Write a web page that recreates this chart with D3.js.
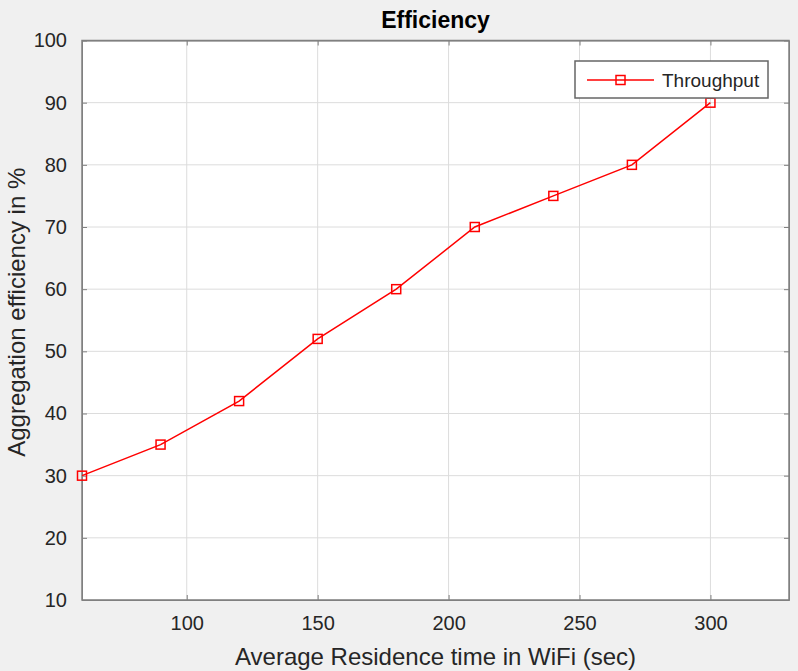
<!DOCTYPE html>
<html>
<head>
<meta charset="utf-8">
<script src="https://cdn.jsdelivr.net/npm/d3@7"></script>
<style>
  body { margin: 0; background: #f0f0f0; }
  svg { display: block; font-family: "Liberation Sans", Arial, sans-serif; }
  .grid line { stroke: #dcdcdc; stroke-width: 1; }
  .axis text { fill: #262626; font-size: 20px; }
  .axis path, .axis line { stroke: #808080; }
</style>
</head>
<body>
<div class="chart"></div>
<script>
const width = 798;
const height = 671;
const margin = { top: 40.5, right: 9, bottom: 71, left: 82 };

// data
const residence = [60, 90, 120, 150, 180, 210, 240, 270, 300];
const throughput = [30, 35, 42, 52, 60, 70, 75, 80, 90];
const xTicks = [100, 150, 200, 250, 300];
const yTicks = [10, 20, 30, 40, 50, 60, 70, 80, 90, 100];

const svg = d3.select('.chart').append('svg')
    .attr('width', width)
    .attr('height', height);

svg.append('rect')
    .attr('width', width).attr('height', height)
    .attr('fill', '#f0f0f0');

const innerW = width - margin.left - margin.right;
const innerH = height - margin.top - margin.bottom;

const xScale = d3.scaleLinear().domain([60, 330]).range([0, innerW]);
const yScale = d3.scaleLinear().domain([10, 100]).range([innerH, 0]);

const chart = svg.append('g')
    .attr('transform', `translate(${margin.left}, ${margin.top})`);

chart.append('rect')
    .attr('width', innerW).attr('height', innerH)
    .attr('fill', '#ffffff');

/* grid */
chart.append('g').attr('class', 'grid')
    .selectAll('line').data(xTicks).enter().append('line')
    .attr('x1', d => xScale(d)).attr('x2', d => xScale(d))
    .attr('y1', 0).attr('y2', innerH);
chart.append('g').attr('class', 'grid')
    .selectAll('line').data(yTicks).enter().append('line')
    .attr('x1', 0).attr('x2', innerW)
    .attr('y1', d => yScale(d)).attr('y2', d => yScale(d));

/* axes */
chart.append('g').attr('class', 'axis')
    .attr('transform', `translate(0, ${innerH})`)
    .call(d3.axisBottom(xScale).tickValues(xTicks).tickSizeInner(-5).tickSizeOuter(0).tickPadding(16));
chart.append('g').attr('class', 'axis')
    .call(d3.axisTop(xScale).tickValues(xTicks).tickSizeInner(-5).tickSizeOuter(0).tickFormat(''));
chart.append('g').attr('class', 'axis')
    .call(d3.axisLeft(yScale).tickValues(yTicks).tickSizeInner(-5).tickSizeOuter(0).tickPadding(15));
chart.append('g').attr('class', 'axis')
    .attr('transform', `translate(${innerW}, 0)`)
    .call(d3.axisRight(yScale).tickValues(yTicks).tickSizeInner(-5).tickSizeOuter(0).tickFormat(''));

chart.append('rect')
    .attr('width', innerW).attr('height', innerH)
    .attr('fill', 'none').attr('stroke', '#808080').attr('stroke-width', 1.5);

/* line + markers */
const points = residence.map((r, i) => ({ x: r, y: throughput[i] }));
chart.append('path')
    .datum(points)
    .attr('fill', 'none')
    .attr('stroke', '#ff0000')
    .attr('stroke-width', 1.5)
    .attr('d', d3.line().x(d => xScale(d.x)).y(d => yScale(d.y)));
chart.selectAll('.marker').data(points).enter().append('rect')
    .attr('class', 'marker')
    .attr('x', d => xScale(d.x) - 4.5)
    .attr('y', d => yScale(d.y) - 4.5)
    .attr('width', 9).attr('height', 9)
    .attr('fill', 'none')
    .attr('stroke', '#ff0000')
    .attr('stroke-width', 1.5);

/* title and labels */
svg.append('text')
    .attr('x', margin.left + innerW / 2).attr('y', 28)
    .attr('text-anchor', 'middle')
    .attr('font-weight', 'bold').attr('font-size', 23)
    .attr('fill', '#000')
    .text('Efficiency');
svg.append('text')
    .attr('x', margin.left + innerW / 2).attr('y', 665)
    .attr('text-anchor', 'middle')
    .attr('font-size', 24).attr('fill', '#262626')
    .text('Average Residence time in WiFi (sec)');
svg.append('text')
    .attr('transform', `translate(25, ${margin.top + innerH / 2 - 8}) rotate(-90)`)
    .attr('text-anchor', 'middle')
    .attr('font-size', 24).attr('fill', '#262626')
    .text('Aggregation efficiency in %');

/* legend */
const legend = svg.append('g').attr('transform', 'translate(575, 61)');
legend.append('rect')
    .attr('width', 193).attr('height', 37)
    .attr('fill', '#fff').attr('stroke', '#666').attr('stroke-width', 1.5);
legend.append('line')
    .attr('x1', 12).attr('x2', 79).attr('y1', 19).attr('y2', 19)
    .attr('stroke', '#ff0000').attr('stroke-width', 1.5);
legend.append('rect')
    .attr('x', 41).attr('y', 14.5).attr('width', 9).attr('height', 9)
    .attr('fill', 'none').attr('stroke', '#ff0000').attr('stroke-width', 1.5);
legend.append('text')
    .attr('x', 87).attr('y', 26)
    .attr('font-size', 19).attr('fill', '#262626')
    .text('Throughput');
</script>
</body>
</html>
